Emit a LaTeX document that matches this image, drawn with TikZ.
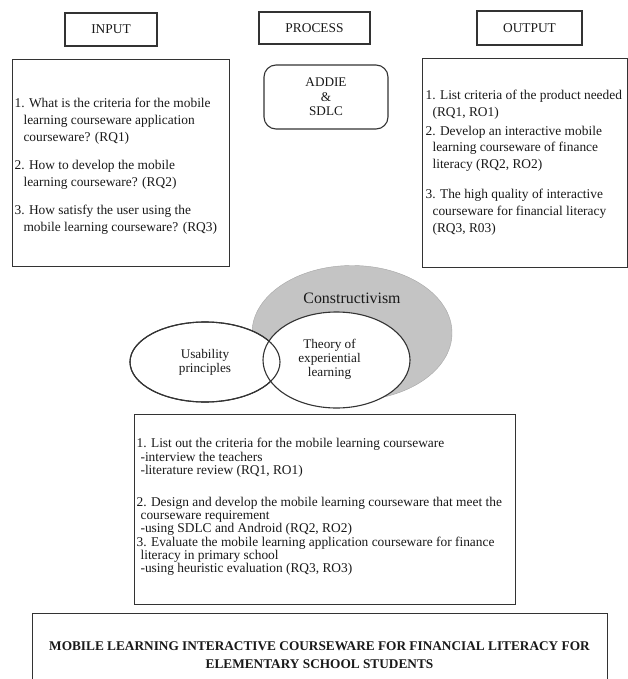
\documentclass[tikz,border=0pt]{standalone}
\usepackage{fontspec}
\setmainfont{Liberation Serif}
\usetikzlibrary{shapes.geometric,positioning}

\begin{document}
\begin{tikzpicture}[x=1pt,y=-1pt,line width=1.1pt,
	every node/.style={text=black!90,font=\fontsize{13.4}{16.6}\selectfont},
	headbox/.style={draw=black!80,rectangle,inner sep=0pt},
	framebox/.style={draw=black!80,rectangle,inner sep=0pt,anchor=north west},
	listtext/.style={anchor=north west,align=left,inner sep=0pt},
	bubble/.style={draw=black!80,ellipse,fill=white,inner sep=0pt,align=center,
		font=\fontsize{13.2}{14}\selectfont}]
	\useasboundingbox[fill=white] (0,0) rectangle (628,679);

	%headings
	\node[headbox,minimum width=92pt,minimum height=33pt] (inhead) at (111,29.5) {INPUT};
	\node[headbox,minimum width=111pt,minimum height=32pt] (prochead) at (314.5,28) {PROCESS};
	\node[headbox,minimum width=105pt,minimum height=34pt] (outhead) at (529.5,28) {OUTPUT};

	%input
	\node[framebox,minimum width=217pt,minimum height=207pt] (inbox) at (12,59) {};
	\node[listtext] (intext) at (14,98) {1. What is the criteria for the mobile\\
		\hspace*{9pt}learning courseware application\\
		\hspace*{9pt}courseware? (RQ1)\\[12pt]
		2. How to develop the mobile\\
		\hspace*{9pt}learning courseware? (RQ2)\\[12pt]
		3. How satisfy the user using the\\
		\hspace*{9pt}mobile learning courseware? (RQ3)};

	%process
	\node[draw=black!80,rounded corners=12pt,minimum width=124pt,minimum height=64pt,
		align=center,font=\fontsize{13.2}{14.5}\selectfont] (addie) at (326,97) {ADDIE\\\&\\SDLC};

	%output
	\node[framebox,minimum width=205pt,minimum height=209pt] (outbox) at (422,58) {};
	\node[listtext,font=\fontsize{13.4}{16.8}\selectfont] (outtext) at (425,90) {1. List criteria of the product needed\\
		\hspace*{7pt}(RQ1, RO1)\\[1.5pt]
		2. Develop an interactive mobile\\
		\hspace*{7pt}learning courseware of finance\\
		\hspace*{7pt}literacy (RQ2, RO2)\\[13pt]
		3. The high quality of interactive\\
		\hspace*{7pt}courseware for financial literacy\\
		\hspace*{7pt}(RQ3, R03)};

	%theories
	\node[ellipse,fill=black!23,draw=black!35,thin,minimum width=200pt,minimum height=135pt] (construct) at (352,333) {};
	\node[font=\fontsize{15.9}{18}\selectfont] (constlabel) at (352,298) {Constructivism};
	\node[bubble,minimum width=150pt,minimum height=80pt] (usab) at (205,362) {Usability\\principles};
	\node[bubble,align=none,minimum width=147pt,minimum height=96pt] (theory) at (336.5,360)
		{\begin{tabular}{@{}c@{}}Theory of\\experiential\\learning\end{tabular}\hspace*{14pt}};
	\draw[black!80] (usab.center) ellipse [x radius=75pt,y radius=40pt]; %left outline on top

	%method
	\node[framebox,minimum width=381pt,minimum height=190pt] (methodbox) at (134,414) {};
	\node[listtext,font=\fontsize{13.4}{13.2}\selectfont] (methodtext) at (136,438) {1. List out the criteria for the mobile learning courseware\\
		\hspace*{4pt}-interview the teachers\\
		\hspace*{4pt}-literature review (RQ1, RO1)\\[19pt]
		2. Design and develop the mobile learning courseware that meet the\\
		\hspace*{4pt}courseware requirement\\
		\hspace*{4pt}-using SDLC and Android (RQ2, RO2)\\
		3. Evaluate the mobile learning application courseware for finance\\
		\hspace*{4pt}literacy in primary school\\
		\hspace*{4pt}-using heuristic evaluation (RQ3, RO3)};

	%title
	\node[framebox,minimum width=575pt,minimum height=80pt] (titlebox) at (32,613) {};
	\node[align=center,font=\bfseries\fontsize{13.3}{17.5}\selectfont] (titletext) at (319.5,655) {MOBILE LEARNING INTERACTIVE COURSEWARE FOR FINANCIAL LITERACY FOR\\ELEMENTARY SCHOOL STUDENTS};
\end{tikzpicture}
\end{document}
